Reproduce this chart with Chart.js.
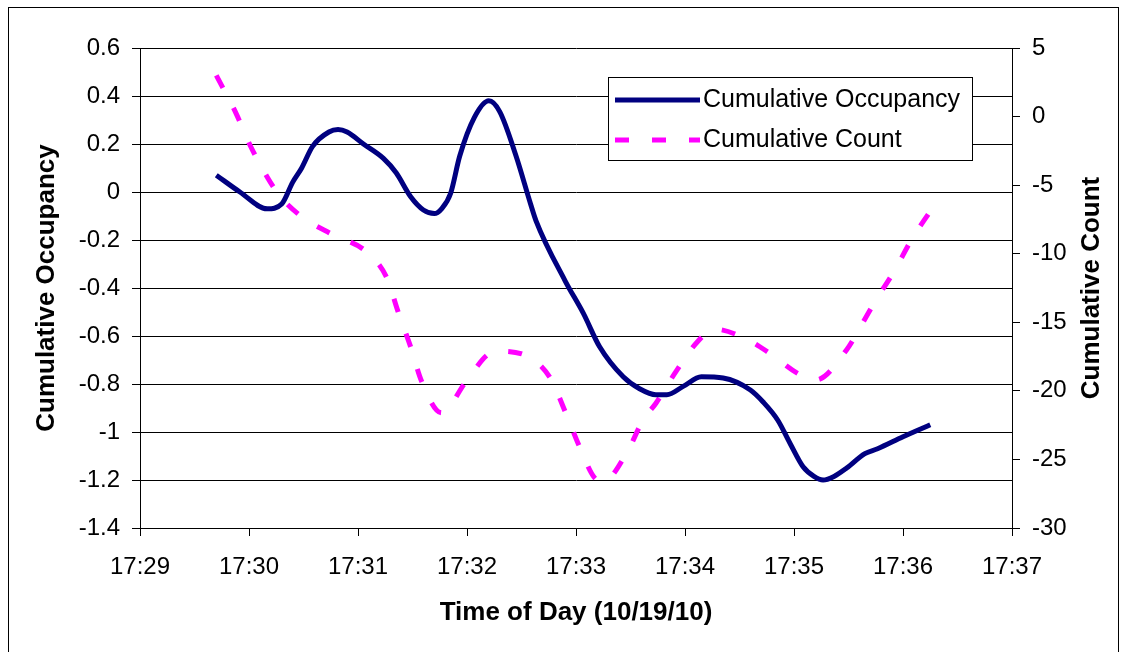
<!DOCTYPE html>
<html>
<head>
<meta charset="utf-8">
<script src="https://cdn.jsdelivr.net/npm/chart.js@4.4.1/dist/chart.umd.min.js"></script>
<style>
  body { margin: 0; background: #fff; }
  canvas { display: block; }
</style>
</head>
<body>
<canvas id="occChart" width="1125" height="652"></canvas>
<script>
// seconds after 17:29:00
var occTimes = [42, 55, 70, 78, 84, 89, 95, 104, 109, 114, 123, 134, 141, 149, 156, 162, 166, 171, 176, 184,
                192, 198, 207, 215, 218, 234, 244, 253, 266, 275, 284, 290, 299, 309, 321, 336, 343, 351, 358, 365,
                371, 376, 382, 389, 399, 406, 420, 435];
var occValues = [0.07, 0.0, -0.07, -0.05, 0.04, 0.10, 0.19, 0.25, 0.26, 0.25, 0.20, 0.14, 0.08, -0.02, -0.075, -0.09, -0.07, -0.005, 0.15, 0.31,
                 0.38, 0.335, 0.15, -0.05, -0.12, -0.37, -0.505, -0.645, -0.77, -0.82, -0.845, -0.845, -0.81, -0.77, -0.775, -0.825, -0.875, -0.95, -1.05, -1.145,
                 -1.185, -1.2, -1.185, -1.15, -1.09, -1.07, -1.02, -0.97];

var cntTimes = [42, 53, 61, 70, 77, 90, 106, 125, 136, 142, 149, 155, 166, 179, 191, 196, 215, 226, 234, 242,
                250, 255, 268, 277, 284, 295, 307, 316, 335, 347, 363, 372, 389, 398, 405, 415, 425, 435];
var cntValues = [3.0, 0.2, -2.2, -4.4, -5.8, -7.4, -8.6, -9.9, -11.8, -14.2, -16.8, -19.3, -21.6, -19.4, -17.4, -17.1, -17.6, -19.1, -21.5, -24.1,
                 -26.3, -26.6, -24.5, -22.1, -20.9, -18.6, -16.4, -15.5, -16.3, -17.3, -18.8, -19.2, -17.0, -15.0, -13.4, -11.3, -8.9, -6.9];

var xTickLabels = ['17:29', '17:30', '17:31', '17:32', '17:33', '17:34', '17:35', '17:36', '17:37'];
var seriesNames = ['Cumulative Occupancy', 'Cumulative Count'];

var FONT = "'Liberation Sans', Arial, sans-serif";

function toPoints(times, values) {
  return times.map(function(t, i) { return { x: t, y: values[i] }; });
}

// white page with thin frame
var framePlugin = {
  id: 'frame',
  beforeDraw: function(chart) {
    var ctx = chart.ctx;
    ctx.save();
    ctx.fillStyle = '#fff';
    ctx.fillRect(0, 0, chart.width, chart.height);
    ctx.strokeStyle = '#000';
    ctx.lineWidth = 1;
    ctx.strokeRect(8.5, 7.5, 1110, 660);
    ctx.restore();
  },
  // right axis title reads bottom-to-top in the original
  afterDraw: function(chart) {
    var ctx = chart.ctx;
    var s = chart.scales.y2;
    ctx.save();
    ctx.translate(1092, (s.top + s.bottom) / 2);
    ctx.rotate(-Math.PI / 2);
    ctx.font = 'bold 26px ' + FONT;
    ctx.fillStyle = '#000';
    ctx.textAlign = 'center';
    ctx.textBaseline = 'middle';
    ctx.fillText('Cumulative Count', 0, 0);
    ctx.restore();
  }
};

// boxed legend inside the plot, like the original
var boxLegend = {
  id: 'boxLegend',
  afterDatasetsDraw: function(chart) {
    var ctx = chart.ctx;
    var bx = 608, by = 77, bw = 364, bh = 83;
    ctx.save();
    ctx.fillStyle = '#fff';
    ctx.fillRect(bx, by, bw, bh);
    ctx.strokeStyle = '#000';
    ctx.lineWidth = 1;
    ctx.strokeRect(bx + 0.5, by + 0.5, bw, bh);
    ctx.font = '25px ' + FONT;
    ctx.textBaseline = 'middle';
    ctx.fillStyle = '#000';
    chart.data.datasets.forEach(function(ds, i) {
      var y = by + 23 + i * 40;
      ctx.beginPath();
      ctx.strokeStyle = ds.borderColor;
      ctx.lineWidth = ds.borderWidth;
      ctx.lineCap = 'butt';
      ctx.setLineDash(ds.borderDash || []);
      ctx.moveTo(615, y);
      ctx.lineTo(700, y);
      ctx.stroke();
      ctx.setLineDash([]);
      ctx.fillText(ds.label, 703, y);
    });
    ctx.restore();
  }
};

document.addEventListener('DOMContentLoaded', function() {
  var ctx = document.getElementById('occChart').getContext('2d');
  new Chart(ctx, {
    type: 'line',
    data: {
      datasets: [{
        label: seriesNames[0],
        data: toPoints(occTimes, occValues),
        yAxisID: 'y',
        borderColor: '#000080',
        borderWidth: 5,
        pointRadius: 0,
        cubicInterpolationMode: 'monotone',
        fill: false
      }, {
        label: seriesNames[1],
        data: toPoints(cntTimes, cntValues),
        yAxisID: 'y2',
        borderColor: '#ff00ff',
        borderWidth: 5,
        borderDash: [14, 23],
        borderCapStyle: 'butt',
        pointRadius: 0,
        cubicInterpolationMode: 'monotone',
        fill: false
      }]
    },
    options: {
      responsive: false,
      animation: false,
      layout: { padding: { left: 31, right: 17, top: 48, bottom: 24 } },
      plugins: {
        legend: { display: false },
        tooltip: { enabled: false }
      },
      scales: {
        x: {
          type: 'linear',
          min: 0,
          max: 480,
          afterFit: function(s) { s.height = 100; },
          ticks: {
            stepSize: 60,
            padding: 17,
            color: '#000',
            font: { family: FONT, size: 24 },
            callback: function(v) { return xTickLabels[Math.round(v / 60)]; }
          },
          grid: { drawOnChartArea: false, color: '#000', tickLength: 8 },
          border: { color: '#000', width: 1 },
          title: {
            display: true,
            text: 'Time of Day (10/19/10)',
            color: '#000',
            padding: 0,
            font: { family: FONT, size: 26, weight: 'bold' }
          }
        },
        y: {
          position: 'left',
          min: -1.4,
          max: 0.6,
          afterFit: function(s) { s.width = 109; },
          ticks: {
            stepSize: 0.2,
            padding: 12,
            color: '#000',
            font: { family: FONT, size: 24 },
            callback: function(v) { return String(Number(v.toFixed(1))); }
          },
          grid: { color: '#000', tickLength: 8 },
          border: { color: '#000', width: 1 },
          title: {
            display: true,
            text: 'Cumulative Occupancy',
            color: '#000',
            padding: 0,
            font: { family: FONT, size: 26, weight: 'bold' }
          }
        },
        y2: {
          position: 'right',
          min: -30,
          max: 5,
          afterFit: function(s) { s.width = 96; },
          ticks: {
            stepSize: 5,
            padding: 12,
            color: '#000',
            font: { family: FONT, size: 24 }
          },
          grid: { drawOnChartArea: false, color: '#000', tickLength: 8 },
          border: { color: '#000', width: 1 }
        }
      }
    },
    plugins: [framePlugin, boxLegend]
  });
});
</script>
</body>
</html>
